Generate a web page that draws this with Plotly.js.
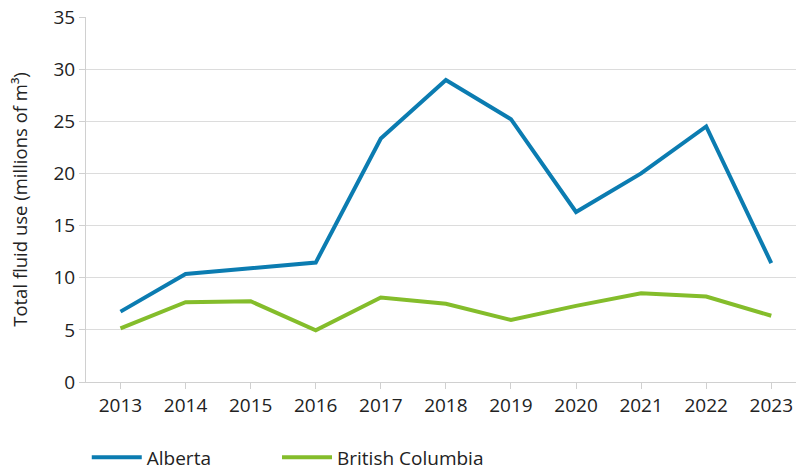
<!DOCTYPE html>
<html>
<head>
<meta charset="utf-8">
<script src="https://cdn.plot.ly/plotly-3.0.1.min.js"></script>
<style>html,body{margin:0;padding:0;background:#fff;}#chart{width:796px;height:470px;}</style>
</head>
<body>
<div id="chart"></div>
<script>
const years = ["2013","2014","2015","2016","2017","2018","2019","2020","2021","2022","2023"];
const alberta = [6.75, 10.35, 10.9, 11.45, 23.35, 28.95, 25.2, 16.3, 20.0, 24.5, 11.4];
const britishColumbia = [5.15, 7.65, 7.75, 4.95, 8.1, 7.5, 5.95, 7.3, 8.5, 8.2, 6.35];
const seriesNames = ["Alberta", "British Columbia"];
const yTicks = [0, 5, 10, 15, 20, 25, 30, 35];

const font = "'Open Sans', 'Noto Sans', sans-serif";
const traces = [
  {x: years, y: alberta, name: seriesNames[0], type: "scatter", mode: "lines",
   line: {color: "#0b7cb1", width: 4}, legend: "legend"},
  {x: years, y: britishColumbia, name: seriesNames[1], type: "scatter", mode: "lines",
   line: {color: "#84bd2b", width: 4}, legend: "legend2"}
];
const legendBase = {orientation: "h", xanchor: "left", xref: "container", yref: "container",
  y: 0.027, yanchor: "middle", font: {size: 19, color: "#222"}, itemwidth: 50,
  bgcolor: "rgba(0,0,0,0)"};
const layout = {
  width: 796, height: 470,
  margin: {l: 86, r: 0, t: 17, b: 88},
  paper_bgcolor: "#fff", plot_bgcolor: "#fff",
  font: {family: font, size: 19, color: "#222"},
  showlegend: true,
  legend: Object.assign({}, legendBase, {x: 0.109}),
  legend2: Object.assign({}, legendBase, {x: 0.348}),
  xaxis: {type: "category", range: [-0.53, 10.38], showgrid: false, showline: true,
          linecolor: "#d0d0d0", linewidth: 1, ticks: "outside", ticklen: 6, tickcolor: "#d0d0d0",
          tickfont: {size: 19, color: "#222"}, zeroline: false, fixedrange: true},
  yaxis: {range: [0, 35], tickvals: yTicks, showgrid: true, gridcolor: "#dcdcdc", gridwidth: 1,
          showline: true, linecolor: "#d0d0d0", linewidth: 1, ticks: "outside", ticklen: 6,
          tickcolor: "#d0d0d0", zeroline: false, tickfont: {size: 19, color: "#222"},
          title: {text: "Total fluid use (millions of m³)", font: {size: 18.5, color: "#222"}, standoff: 20},
          fixedrange: true}
};
Plotly.newPlot("chart", traces, layout, {displayModeBar: false, staticPlot: true});
</script>
</body>
</html>
